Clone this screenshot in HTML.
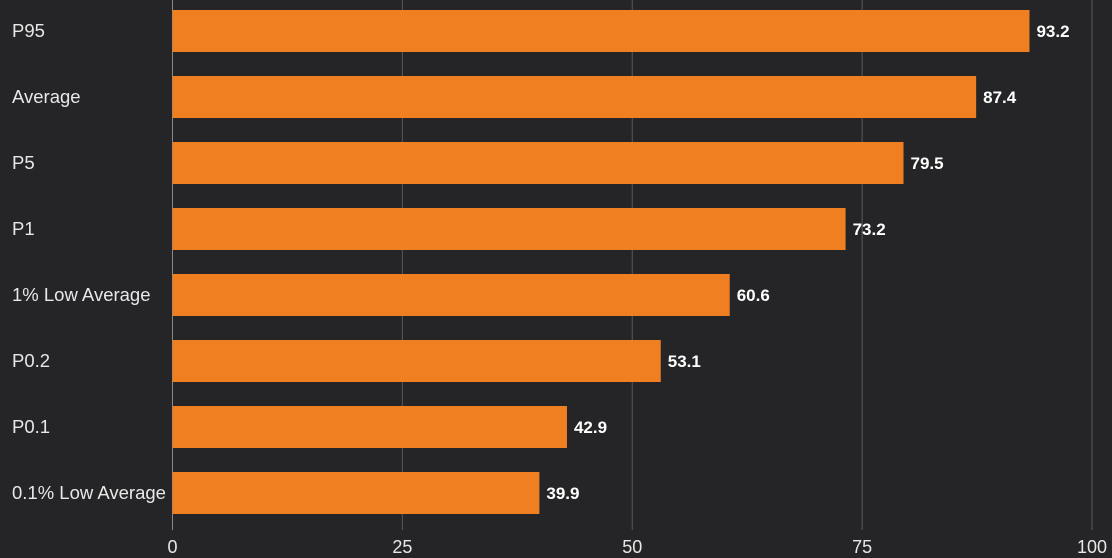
<!DOCTYPE html>
<html><head><meta charset="utf-8"><style>
html,body{margin:0;padding:0;background:#252527;}
svg{display:block;}
text{font-family:"Liberation Sans",sans-serif;}
</style></head><body>
<svg id="chart" width="1112" height="558"></svg>
<script>
const categories=["P95","Average","P5","P1","1% Low Average","P0.2","P0.1","0.1% Low Average"];
const values=[93.2,87.4,79.5,73.2,60.6,53.1,42.9,39.9];
const ticks=[0,25,50,75,100];
const svg=document.getElementById('chart');
const NS='http://www.w3.org/2000/svg';
const x0=172.5,x1=1092,top0=10,band=66,barH=42;
function xs(v){return x0+(v/100)*(x1-x0);}
function yb(i){return top0+i*band;}
function mk(tag,attrs){const e=document.createElementNS(NS,tag);for(const k in attrs)e.setAttribute(k,attrs[k]);svg.appendChild(e);return e;}
ticks.forEach(t=>{
  const g=mk('line',{x1:xs(t),x2:xs(t),y1:0,y2:530,stroke:t===0?'#8a8a8a':'#5a5a5c','stroke-width':1});
  
  
  const tl=mk('text',{x:xs(t),y:553,'text-anchor':'middle','font-size':18,fill:'#e8e8e8'});
  tl.textContent=t;
  
  
});
categories.forEach((c,i)=>{
  const y=yb(i);
  const r=mk('rect',{x:xs(0),y:y,width:xs(values[i])-xs(0),height:barH,fill:'#f07f22'});
  
  
  const l=mk('text',{x:12,y:y+barH/2+6,'font-size':18.5,fill:'#e8e8e8'});
  l.textContent=c;
  
  
  const v=mk('text',{x:xs(values[i])+7,y:y+barH/2+6,'font-size':17,'font-weight':'bold',fill:'#ffffff'});
  v.textContent=values[i].toFixed(1);
  
  
});
</script>
</body></html>
